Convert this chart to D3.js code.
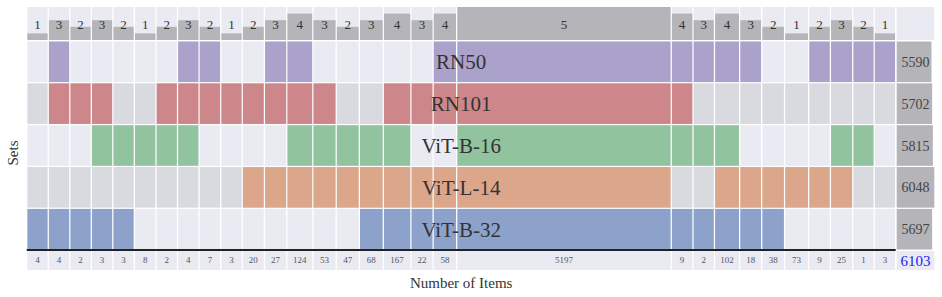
<!DOCTYPE html>
<html>
<head>
<meta charset="utf-8">
<script src="https://cdn.jsdelivr.net/npm/d3@7"></script>
<style>
  body { margin: 0; background: #fff; }
  text { font-family: "Liberation Serif", "DejaVu Serif", serif; }
</style>
</head>
<body>
<div id="chart"></div>
<script>
// Sets (rows) and their sizes
const sets = ["RN50", "RN101", "ViT-B-16", "ViT-L-14", "ViT-B-32"];
const setSizes = [5590, 5702, 5815, 6048, 5697];
const setColors = ["#8172B3", "#C44E52", "#55A868", "#DD8452", "#4C72B0"];

// Intersections (columns): item count and membership (one char per set, same order as sets)
const counts = [4, 4, 2, 3, 3, 8, 2, 4, 7, 3, 20, 27, 124, 53, 47, 68, 167, 22, 58, 5197,
                9, 2, 102, 18, 38, 73, 9, 25, 1, 3];
const members = ["00001", "11001", "01001", "01101", "00101", "00100", "01100", "11100", "11000", "01000",
                 "01010", "11010", "11110", "01110", "00110", "00111", "01111", "01011", "11011", "11111",
                 "11101", "10101", "10111", "10011", "00011", "00010", "10010", "10110", "10100", "10000"];
const totalItems = 6103;

// Dimensions
const W = 942, H = 297;
const left = 26.7, right = 895.7;
const sizeLeft = 896.7, sizeRight = 934.3;
const degTop = 7, degBottom = 40;
const matTop = 41.5, matBottom = 249.5;
const cntTop = 251, cntBottom = 270;
const colBase = 576; // width of a column = base + count (in scale units)

const light = "#EAEAF2", dark = "#D9DADF", barGray = "#B4B4B9";

const svg = d3.select("#chart")
  .append("svg")
    .attr("width", W)
    .attr("height", H);

// Column positions
const starts = [];
let acc = 0;
counts.forEach(c => { starts.push(acc); acc += colBase + c; });
const cols = counts.map((c, i) => ({
  i, count: c, start: starts[i], end: starts[i] + colBase + c,
  mem: members[i].split("").map(Number),
  degree: members[i].split("").filter(ch => ch === "1").length
}));

const x = d3.scaleLinear()
  .domain([0, acc])
  .range([left, right]);

const yDeg = d3.scaleLinear()
  .domain([0, sets.length])
  .range([degBottom, degTop]);

const yRow = d3.scaleBand()
  .domain(sets)
  .range([matTop, matBottom])
  .paddingInner(0.03);

const xSize = d3.scaleLinear()
  .domain([0, d3.max(setSizes)])
  .range([0, sizeRight - sizeLeft]);

const gap = 0.65;

// Degree row
const deg = svg.append("g");
deg.selectAll("rect.bg")
  .data(cols)
  .join("rect")
    .attr("class", "bg")
    .attr("x", d => x(d.start) + gap)
    .attr("width", d => x(d.end) - x(d.start) - 2 * gap)
    .attr("y", degTop)
    .attr("height", degBottom - degTop)
    .attr("fill", light);
deg.selectAll("rect.bar")
  .data(cols)
  .join("rect")
    .attr("class", "bar")
    .attr("x", d => x(d.start) + gap)
    .attr("width", d => x(d.end) - x(d.start) - 2 * gap)
    .attr("y", d => yDeg(d.degree))
    .attr("height", d => degBottom - yDeg(d.degree))
    .attr("fill", barGray);
deg.selectAll("text")
  .data(cols)
  .join("text")
    .attr("x", d => (x(d.start) + x(d.end)) / 2)
    .attr("y", 28.5)
    .attr("text-anchor", "middle")
    .style("font-size", "13px")
    .attr("fill", "#333")
    .text(d => d.degree);

// top-right empty cell
svg.append("rect")
  .attr("x", sizeLeft).attr("width", sizeRight - sizeLeft)
  .attr("y", degTop).attr("height", degBottom - degTop)
  .attr("fill", light);

// Matrix cells
const cells = [];
cols.forEach(c => sets.forEach((s, r) => cells.push({ c, r, s, on: c.mem[r] === 1 })));

const mat = svg.append("g");
mat.selectAll("rect.bg")
  .data(cells)
  .join("rect")
    .attr("class", "bg")
    .attr("x", d => x(d.c.start) + gap)
    .attr("width", d => x(d.c.end) - x(d.c.start) - 2 * gap)
    .attr("y", d => yRow(d.s))
    .attr("height", yRow.bandwidth())
    .attr("fill", d => d.r % 2 === 0 ? light : dark);
mat.selectAll("rect.on")
  .data(cells.filter(d => d.on))
  .join("rect")
    .attr("class", "on")
    .attr("x", d => x(d.c.start) + gap)
    .attr("width", d => x(d.c.end) - x(d.c.start) - 2 * gap)
    .attr("y", d => yRow(d.s))
    .attr("height", yRow.bandwidth())
    .attr("fill", d => setColors[d.r])
    .attr("fill-opacity", 0.6);

// Set labels, centred on the matrix
svg.append("g").selectAll("text")
  .data(sets)
  .join("text")
    .attr("x", (left + right) / 2)
    .attr("y", d => yRow(d) + yRow.bandwidth() / 2 + 7.5)
    .attr("text-anchor", "middle")
    .style("font-size", "21px")
    .attr("fill", "#333")
    .text(d => d);

// Set sizes
const sz = svg.append("g");
sz.selectAll("rect")
  .data(sets)
  .join("rect")
    .attr("x", sizeLeft)
    .attr("width", (d, i) => xSize(setSizes[i]))
    .attr("y", d => yRow(d))
    .attr("height", yRow.bandwidth())
    .attr("fill", barGray);
sz.selectAll("text")
  .data(sets)
  .join("text")
    .attr("x", (sizeLeft + sizeRight) / 2)
    .attr("y", d => yRow(d) + yRow.bandwidth() / 2 + 5)
    .attr("text-anchor", "middle")
    .style("font-size", "14px")
    .attr("fill", "#444")
    .text((d, i) => setSizes[i]);

// Counts row
const cnt = svg.append("g");
cnt.selectAll("rect")
  .data(cols)
  .join("rect")
    .attr("x", d => x(d.start) + gap)
    .attr("width", d => x(d.end) - x(d.start) - 2 * gap)
    .attr("y", cntTop)
    .attr("height", cntBottom - cntTop)
    .attr("fill", light);
cnt.selectAll("text")
  .data(cols)
  .join("text")
    .attr("x", d => (x(d.start) + x(d.end)) / 2)
    .attr("y", 263)
    .attr("text-anchor", "middle")
    .style("font-size", "9px")
    .attr("fill", "#555")
    .text(d => d.count);

svg.append("rect")
  .attr("x", sizeLeft).attr("width", sizeRight - sizeLeft)
  .attr("y", cntTop).attr("height", cntBottom - cntTop)
  .attr("fill", light);
svg.append("text")
  .attr("x", (sizeLeft + sizeRight) / 2)
  .attr("y", 265.5)
  .attr("text-anchor", "middle")
  .style("font-size", "15px")
  .attr("fill", "#1a1aff")
  .text(totalItems);

// Thick baseline under the matrix
svg.append("line")
  .attr("x1", left).attr("x2", right)
  .attr("y1", 250).attr("y2", 250)
  .attr("stroke", "#222")
  .attr("stroke-width", 2);

// Axis titles
svg.append("text")
  .attr("transform", "translate(18,153)rotate(-90)")
  .attr("text-anchor", "middle")
  .style("font-size", "15px")
  .attr("fill", "#333")
  .text("Sets");
svg.append("text")
  .attr("x", (left + right) / 2)
  .attr("y", 288)
  .attr("text-anchor", "middle")
  .style("font-size", "15px")
  .attr("fill", "#333")
  .text("Number of Items");
</script>
</body>
</html>
